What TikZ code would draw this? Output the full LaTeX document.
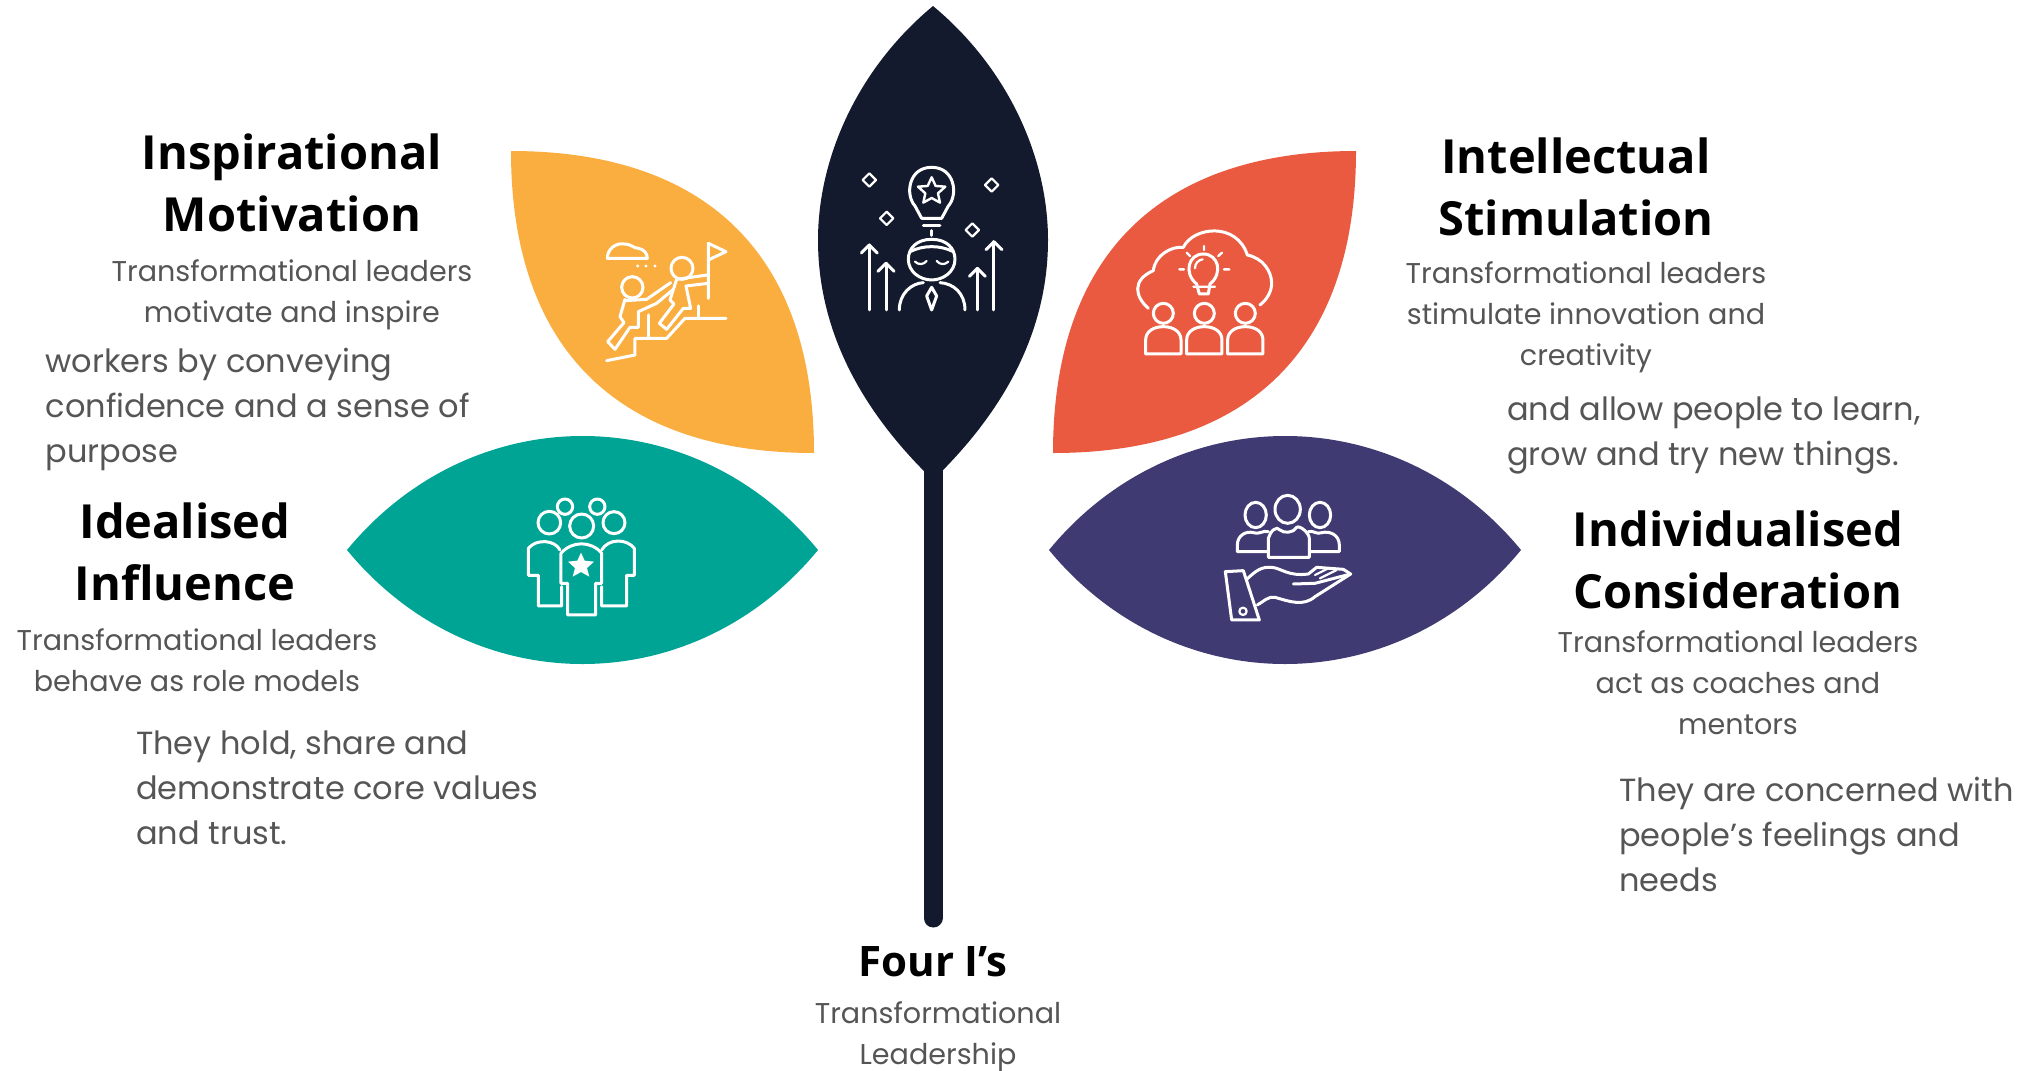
\documentclass[tikz,border=0pt]{standalone}
\usepackage{fontspec}
\setmainfont{Poppins}
\newfontfamily\headfont{Open Sans}[BoldFont=* Bold]
\definecolor{cOrange}{HTML}{F9AE3F}
\definecolor{cRed}{HTML}{EA5A40}
\definecolor{cTeal}{HTML}{00A494}
\definecolor{cPurple}{HTML}{3F3A72}
\definecolor{cNavy}{HTML}{141A2E}
\definecolor{cText}{HTML}{555555}
\tikzset{
  head/.style={font=\headfont\bfseries\fontsize{47}{61.7}\selectfont,text=black,align=center,inner sep=0pt},
  bodyc/.style={font=\fontsize{28.6}{41}\selectfont,text=cText,align=center,inner sep=0pt},
  bodyl/.style={font=\fontsize{32}{45}\selectfont,text=cText,align=left,inner sep=0pt},
  ico/.style={draw=white,line width=3pt,line join=round,line cap=round},
}
\begin{document}
\begin{tikzpicture}[x=1pt,y=-1pt]
\useasboundingbox (0,0) rectangle (2035,1071);
% leaves
\fill[cNavy] (933,6) .. controls (1010,70) and (1048,160) .. (1048,240) .. controls (1048,345) and (990,425) .. (933,480) .. controls (876,425) and (818,345) .. (818,240) .. controls (818,160) and (856,70) .. (933,6) -- cycle;
\draw[cNavy,line width=19pt,line cap=round] (933,460) -- (933,918);
\fill[cOrange] (511,151) .. controls (708,151) and (814,256) .. (814,453) .. controls (617,453) and (511,348) .. (511,151) -- cycle;
\fill[cRed] (1356,151) .. controls (1159,151) and (1053,256) .. (1053,453) .. controls (1250,453) and (1356,348) .. (1356,151) -- cycle;
\fill[cTeal] (347,550) .. controls (472,398) and (693,398) .. (818,550) .. controls (693,702) and (472,702) .. (347,550) -- cycle;
\fill[cPurple] (1049,550) .. controls (1174,398) and (1396,398) .. (1521,550) .. controls (1396,702) and (1174,702) .. (1049,550) -- cycle;
% navy icon
\begin{scope}[shift={(800,0)},x=0.3333pt,y=-0.3333pt,ico]
\draw (345,618) .. controls (315,585) and (325,502) .. (395,502) .. controls (465,502) and (475,585) .. (445,618) -- (425,655) -- (365,655) -- cycle;
\draw (370,678) -- (420,678) (395,692) -- (395,706);
\draw[line width=2.4pt] (395,532) -- (407,558) -- (436,560) -- (414,580) -- (420,608) -- (395,594) -- (370,608) -- (376,580) -- (354,560) -- (383,558) -- cycle;
\draw (395,718) .. controls (350,718) and (325,745) .. (325,778) .. controls (325,815) and (360,840) .. (395,840) .. controls (430,840) and (465,815) .. (465,778) .. controls (465,745) and (440,718) .. (395,718);
\draw (330,755) .. controls (370,735) and (420,735) .. (460,755);
\draw[line width=2.2pt] (345,785) .. controls (355,795) and (370,795) .. (380,783) (410,783) .. controls (420,795) and (435,795) .. (445,785);
\draw (298,930) .. controls (298,880) and (335,850) .. (370,848) (420,848) .. controls (460,850) and (495,880) .. (495,930);
\draw (395,862) -- (410,888) -- (395,930) -- (380,888) -- cycle;
\foreach \xa/\ya in {208/735,258/790,532/805,582/725}{
 \draw (\xa,930) -- (\xa,\ya);
 \draw (\xa-24,\ya+24) -- (\xa,\ya) -- (\xa+24,\ya+24);
}
\foreach \xa/\ya in {208/540,260/655,575/555,517/690}{
 \draw[line width=2.2pt] (\xa,\ya-20) -- (\xa+20,\ya) -- (\xa,\ya+20) -- (\xa-20,\ya) -- cycle;
}
\end{scope}
% orange icon
\begin{scope}[shift={(500,140)},x=0.3333pt,y=-0.3333pt,ico]
\draw (322,355) .. controls (322,325) and (350,308) .. (372,312) .. controls (395,312) and (400,325) .. (415,325) .. controls (432,328) and (442,340) .. (442,355) -- cycle;
\fill[white] (413,378) circle (5) (438,378) circle (5) (465,378) circle (5);
\draw (397,442) circle (32) (546,385) circle (33);
\draw (625,475) -- (625,310) -- (678,335) -- (625,360);
\draw (375,478) -- (360,530) -- (372,548) -- (323,605) -- (345,628) -- (390,562) -- (415,562) -- (415,515) -- (470,490) -- (520,448);
\draw (378,482) -- (440,478) -- (512,428);
\draw (530,418) -- (510,480) -- (522,492) -- (478,550) -- (500,568) -- (550,505) -- (572,505) -- (558,438) -- (625,430);
\draw (530,418) -- (622,405);
\draw (320,662) -- (405,645) -- (405,595) -- (500,595) -- (555,535) -- (678,535);
\draw (445,525) -- (445,592) (595,535) -- (595,498);
\end{scope}
% red icon
\begin{scope}[shift={(1060,140)},x=0.3333pt,y=-0.3333pt,ico]
\draw (265,505) .. controls (225,470) and (215,420) .. (280,392) .. controls (285,345) and (335,318) .. (370,322) .. controls (400,260) and (530,245) .. (562,345) .. controls (610,355) and (635,395) .. (635,430) .. controls (635,455) and (620,480) .. (600,495);
\draw (410,432) .. controls (370,400) and (385,342) .. (430,342) .. controls (475,342) and (490,400) .. (450,432) -- (445,462) -- (418,462) -- cycle;
\draw[line width=2.2pt] (400,440) -- (465,440) (405,385) .. controls (405,370) and (415,360) .. (428,358);
\draw[line width=2.4pt] (358,388) -- (372,388) (380,338) -- (390,348) (432,318) -- (432,330) (486,338) -- (475,348) (492,388) -- (508,388);
\foreach \xa in {310,433,556}{
 \draw (\xa,520) circle (30);
 \draw (\xa-53,642) -- (\xa-53,600) .. controls (\xa-53,575) and (\xa-30,560) .. (\xa,560) .. controls (\xa+30,560) and (\xa+53,575) .. (\xa+53,600) -- (\xa+53,642) -- cycle;
}
\end{scope}
% teal icon
\begin{scope}[shift={(500,470)},x=0.3333pt,y=-0.3333pt,ico]
\draw (148,158) circle (34) (195,110) circle (23) (245,168) circle (36) (292,110) circle (23) (342,158) circle (33);
\draw (180,240) .. controls (165,210) and (110,205) .. (85,235) -- (85,316) -- (115,316) -- (115,408) -- (185,408) -- (185,350);
\draw (305,240) .. controls (325,205) and (380,205) .. (403,235) -- (403,316) -- (380,316) -- (380,408) -- (305,408) -- (305,350);
\draw (183,250) .. controls (215,212) and (275,212) .. (305,250) -- (305,340) -- (287,340) -- (287,435) -- (203,435) -- (203,340) -- (183,340) -- cycle;
\fill[white] (243,248) -- (254,272) -- (282,275) -- (261,294) -- (268,320) -- (243,306) -- (218,320) -- (225,294) -- (204,275) -- (232,272) -- cycle;
\end{scope}
% purple icon
\begin{scope}[shift={(1200,470)},x=0.3333pt,y=-0.3333pt,ico]
\draw (167,135) ellipse (32 and 38) (263,118) ellipse (38 and 42) (360,135) ellipse (32 and 38);
\draw (205,185) .. controls (190,180) and (175,195) .. (160,188) .. controls (140,182) and (112,195) .. (112,225) -- (112,245) -- (205,245);
\draw (325,185) .. controls (340,180) and (350,195) .. (365,188) .. controls (390,182) and (418,195) .. (418,225) -- (418,245) -- (330,245);
\draw (205,262) -- (205,205) .. controls (210,185) and (230,165) .. (240,180) .. controls (250,190) and (280,190) .. (290,172) .. controls (300,165) and (328,190) .. (328,205) -- (328,262) -- cycle;
\draw (76,305) -- (130,302) -- (178,450) -- (95,450) -- cycle;
\draw (140,328) .. controls (170,300) and (185,290) .. (215,292) .. controls (245,295) and (265,320) .. (325,312) -- (350,292) -- (430,298) -- (452,312) -- (345,380) .. controls (310,410) and (270,395) .. (225,382) .. controls (205,378) and (190,395) .. (172,405);
\draw (280,342) -- (345,340) -- (452,312);
\draw[line width=2.2pt] (345,315) -- (385,295) (360,325) -- (410,300);
\draw[line width=2.2pt] (129,424) circle (11);
\end{scope}
% text
\node[head] (t1) at (292,183) {Inspirational\\Motivation};
\node[bodyc] (t1a) at (292,295) {Transformational leaders\\motivate and inspire};
\node[bodyl,anchor=west] (t1b) at (45.5,409) {workers by conveying\\confidence and a sense of\\purpose};
\node[head] (t2) at (185,552) {Idealised\\Influence};
\node[bodyc] (t2a) at (197,660) {Transformational leaders\\behave as role models};
\node[bodyl,anchor=west] (t2b) at (136,788) {They hold, share and\\demonstrate core values\\and trust.};
\node[head] (t3) at (1576,187) {Intellectual\\Stimulation};
\node[bodyc] (t3a) at (1586,317) {Transformational leaders\\stimulate innovation and\\creativity};
\node[bodyl,anchor=west] (t3b) at (1507,435) {and allow people to learn,\\grow and try new things.};
\node[head] (t4) at (1738,560) {Individualised\\Consideration};
\node[bodyc] (t4a) at (1738,683) {Transformational leaders\\act as coaches and\\mentors};
\node[bodyl,anchor=west] (t4b) at (1619,834) {They are concerned with\\people’s feelings and\\needs};
\node[head,font=\headfont\bfseries\fontsize{42}{50}\selectfont] (t5) at (933,962) {Four I’s};
\node[bodyc] (t5a) at (938,1037) {Transformational\\Leadership};
\end{tikzpicture}
\end{document}
